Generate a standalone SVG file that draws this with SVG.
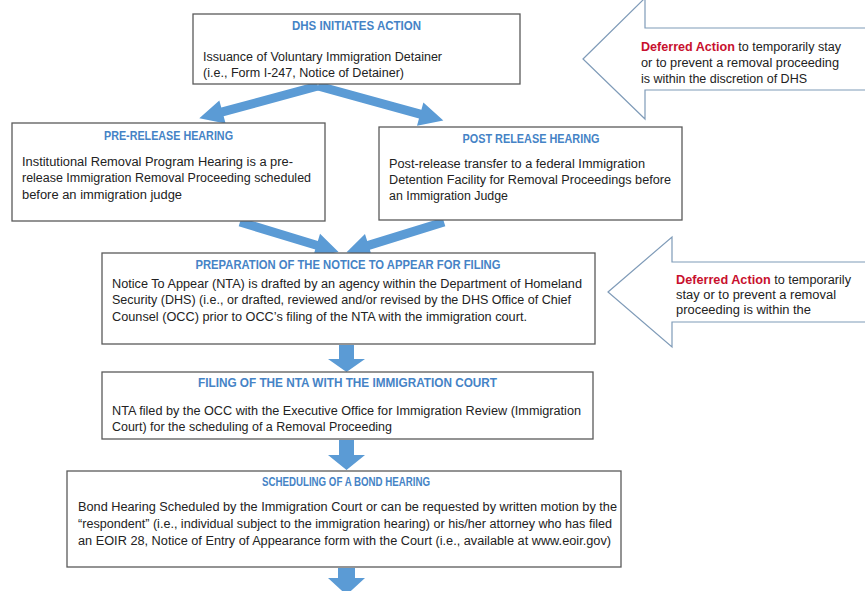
<svg xmlns="http://www.w3.org/2000/svg" width="865" height="591" viewBox="0 0 865 591">
<defs>
<style>
.box{fill:#fff;stroke:#5a5a5a;stroke-width:1.3}
.t{font-family:"Liberation Sans",Arial,sans-serif;font-size:12px;font-weight:bold;fill:#4583c6}
.b{font-family:"Liberation Sans",Arial,sans-serif;font-size:12.5px;fill:#222}
.red{fill:#c8102e;font-weight:bold}
.big{fill:#5b9bd5}
.da{fill:#fff;stroke:#7f9bb8;stroke-width:1.2}
</style>
</defs>
<rect width="865" height="591" fill="#fff"/>

<g id="connectors">
<polygon class="big" transform="translate(318,86) rotate(164.8)" points="0,-4.5 99,-4.5 99,-12 123,0 99,12 99,4.5 0,4.5"/>
<polygon class="big" transform="translate(318,86) rotate(15.4)" points="0,-4.5 106,-4.5 106,-12 130,0 106,12 106,4.5 0,4.5"/>
<polygon class="big" transform="translate(240,222) rotate(16.9)" points="0,-4.5 80,-4.5 80,-12 103,0 80,12 80,4.5 0,4.5"/>
<polygon class="big" transform="translate(444,222) rotate(162.8)" points="0,-4.5 79,-4.5 79,-12 102,0 79,12 79,4.5 0,4.5"/>
<polygon class="big" points="339,345 354,345 354,359 365,359 346.5,372 328,359 339,359"/>
<polygon class="big" points="339,440 354,440 354,455 365,455 346.5,470 328,455 339,455"/>
<polygon class="big" points="338,568 355,568 355,578 365,578 346.5,595 328,578 338,578"/>
</g>

<g id="n-dhs">
<rect class="box" x="193" y="14" width="327" height="70"/>
<text class="t" x="356.5" y="30" text-anchor="middle" textLength="129" lengthAdjust="spacingAndGlyphs">DHS INITIATES ACTION</text>
<text class="b" x="203" y="61" textLength="239" lengthAdjust="spacingAndGlyphs">Issuance of Voluntary Immigration Detainer</text>
<text class="b" x="203" y="77" textLength="201" lengthAdjust="spacingAndGlyphs">(i.e., Form I-247, Notice of Detainer)</text>
</g>

<g id="n-pre">
<rect class="box" x="12" y="123" width="313" height="98"/>
<text class="t" x="168.5" y="140" text-anchor="middle" textLength="129" lengthAdjust="spacingAndGlyphs">PRE-RELEASE HEARING</text>
<text class="b" x="22" y="166" textLength="271" lengthAdjust="spacingAndGlyphs">Institutional Removal Program Hearing is a pre-</text>
<text class="b" x="22" y="182" textLength="289" lengthAdjust="spacingAndGlyphs">release Immigration Removal Proceeding scheduled</text>
<text class="b" x="22" y="199" textLength="160" lengthAdjust="spacingAndGlyphs">before an immigration judge</text>
</g>

<g id="n-post">
<rect class="box" x="379" y="127" width="303" height="93"/>
<text class="t" x="531" y="143" text-anchor="middle" textLength="137" lengthAdjust="spacingAndGlyphs">POST RELEASE HEARING</text>
<text class="b" x="389" y="168" textLength="256" lengthAdjust="spacingAndGlyphs">Post-release transfer to a federal Immigration</text>
<text class="b" x="389" y="184" textLength="282" lengthAdjust="spacingAndGlyphs">Detention Facility for Removal Proceedings before</text>
<text class="b" x="389" y="200" textLength="119" lengthAdjust="spacingAndGlyphs">an Immigration Judge</text>
</g>

<g id="n-prep">
<rect class="box" x="102" y="253" width="493" height="91"/>
<text class="t" x="348" y="269" text-anchor="middle" textLength="305" lengthAdjust="spacingAndGlyphs">PREPARATION OF THE NOTICE TO APPEAR FOR FILING</text>
<text class="b" x="112" y="288" textLength="470" lengthAdjust="spacingAndGlyphs">Notice To Appear (NTA) is drafted by an agency within the Department of Homeland</text>
<text class="b" x="112" y="304" textLength="459" lengthAdjust="spacingAndGlyphs">Security (DHS) (i.e., or drafted, reviewed and/or revised by the DHS Office of Chief</text>
<text class="b" x="112" y="321" textLength="415" lengthAdjust="spacingAndGlyphs">Counsel (OCC) prior to OCC’s filing of the NTA with the immigration court.</text>
</g>

<g id="n-filing">
<rect class="box" x="102" y="372" width="491" height="67"/>
<text class="t" x="347.5" y="387" text-anchor="middle" textLength="299" lengthAdjust="spacingAndGlyphs">FILING OF THE NTA WITH THE IMMIGRATION COURT</text>
<text class="b" x="112" y="415" textLength="469" lengthAdjust="spacingAndGlyphs">NTA filed by the OCC with the Executive Office for Immigration Review (Immigration</text>
<text class="b" x="112" y="431" textLength="280" lengthAdjust="spacingAndGlyphs">Court) for the scheduling of a Removal Proceeding</text>
</g>

<g id="n-bond">
<rect class="box" x="67" y="471" width="554" height="96"/>
<text class="t" x="346" y="486" text-anchor="middle" textLength="168" lengthAdjust="spacingAndGlyphs">SCHEDULING OF A BOND HEARING</text>
<text class="b" x="78" y="511" textLength="539" lengthAdjust="spacingAndGlyphs">Bond Hearing Scheduled by the Immigration Court or can be requested by written motion by the</text>
<text class="b" x="78" y="528" textLength="534" lengthAdjust="spacingAndGlyphs">“respondent” (i.e., individual subject to the immigration hearing) or his/her attorney who has filed</text>
<text class="b" x="78" y="545" textLength="533" lengthAdjust="spacingAndGlyphs">an EOIR 28, Notice of Entry of Appearance form with the Court (i.e., available at www.eoir.gov)</text>
</g>

<g id="n-deferred1">
<path class="da" d="M583,59 L645,-2 L645,28 L870,28 L870,90 L645,90 L645,119 Z"/>
<text class="b" x="641" y="51" textLength="200" lengthAdjust="spacingAndGlyphs"><tspan class="red">Deferred Action</tspan> to temporarily stay</text>
<text class="b" x="641" y="67" textLength="198" lengthAdjust="spacingAndGlyphs">or to prevent a removal proceeding</text>
<text class="b" x="641" y="83" textLength="166" lengthAdjust="spacingAndGlyphs">is within the discretion of DHS</text>
</g>

<g id="n-deferred2">
<path class="da" d="M608,292 L672,237 L672,262 L870,262 L870,322 L672,322 L672,347 Z"/>
<text class="b" x="676" y="284" textLength="175" lengthAdjust="spacingAndGlyphs"><tspan class="red">Deferred Action</tspan> to temporarily</text>
<text class="b" x="676" y="299" textLength="160" lengthAdjust="spacingAndGlyphs">stay or to prevent a removal</text>
<text class="b" x="676" y="314" textLength="135" lengthAdjust="spacingAndGlyphs">proceeding is within the</text>
</g>
</svg>
